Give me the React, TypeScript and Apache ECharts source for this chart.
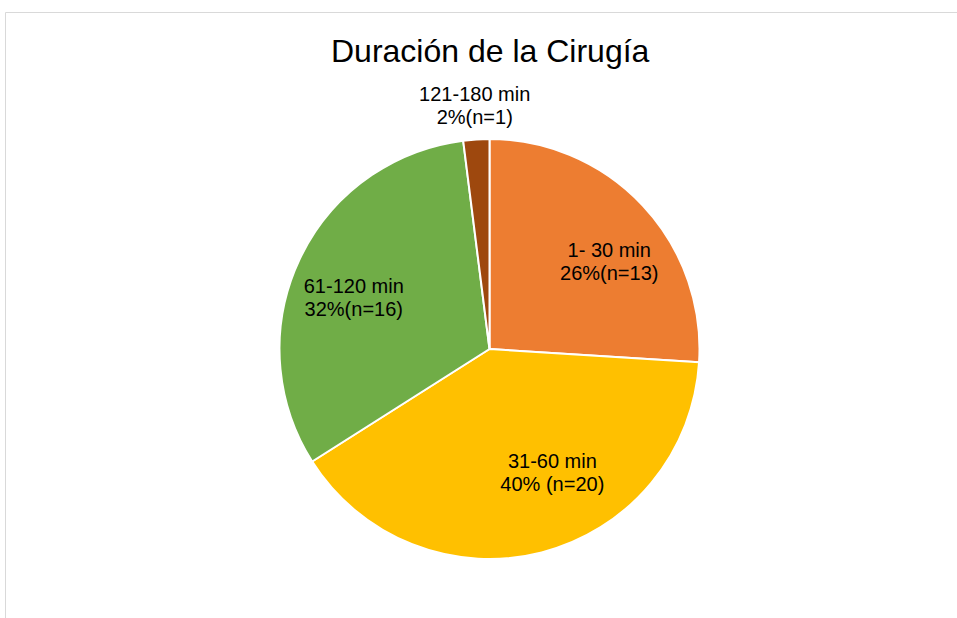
import React, { useEffect, useRef } from "react";
import * as echarts from "echarts";

const TITLE = "Duración de la Cirugía";
const categories = ["1- 30 min", "31-60 min", "61-120 min", "121-180 min"];
const counts = [13, 20, 16, 1];
const valueLabels = ["26%(n=13)", "40% (n=20)", "32%(n=16)", "2%(n=1)"];
const colors = ["#ED7D31", "#FFC000", "#70AD47", "#9E480E"];
// label nudges (px) relative to ECharts' inside-label position
const labelNudges = [
  [41, -14],
  [36, 19],
  [-38, -6],
  [-8, -136],
];

export default function App() {
  const ref = useRef<HTMLDivElement>(null);
  useEffect(() => {
    if (!ref.current) return;
    const chart = echarts.init(ref.current, null, { renderer: "svg" });
    const font = "'Liberation Sans', Arial, sans-serif";
    chart.setOption({
      animation: false,
      backgroundColor: "#ffffff",
      title: {
        text: TITLE,
        left: 331,
        top: 35,
        padding: 0,
        textStyle: {
          fontFamily: font,
          fontSize: 32,
          fontWeight: "normal",
          color: "#000000",
        },
      },
      graphic: [
        {
          type: "rect",
          shape: { x: 5.5, y: 12.5, width: 1000, height: 700 },
          style: { fill: "none", stroke: "#d9d9d9", lineWidth: 1 },
          silent: true,
        },
      ],
      series: [
        {
          type: "pie",
          center: [489.5, 349],
          radius: [0, 210],
          startAngle: 90,
          clockwise: true,
          avoidLabelOverlap: false,
          itemStyle: { borderColor: "#ffffff", borderWidth: 2 },
          label: {
            show: true,
            position: "inside",
            formatter: (p: any) => `${categories[p.dataIndex]}\n${valueLabels[p.dataIndex]}`,
            fontFamily: font,
            fontSize: 20,
            lineHeight: 23,
            color: "#000000",
            align: "center",
          },
          labelLine: { show: false },
          labelLayout: (p: any) => ({
            dx: labelNudges[p.dataIndex][0],
            dy: labelNudges[p.dataIndex][1],
          }),
          emphasis: { disabled: true },
          data: categories.map((c, i) => ({
            name: c,
            value: counts[i],
            itemStyle: { color: colors[i] },
          })),
        },
      ],
    });
    return () => chart.dispose();
  }, []);
  return (
    <div
      ref={ref}
      style={{ position: "fixed", left: 0, top: 0, width: 957, height: 618 }}
    />
  );
}
